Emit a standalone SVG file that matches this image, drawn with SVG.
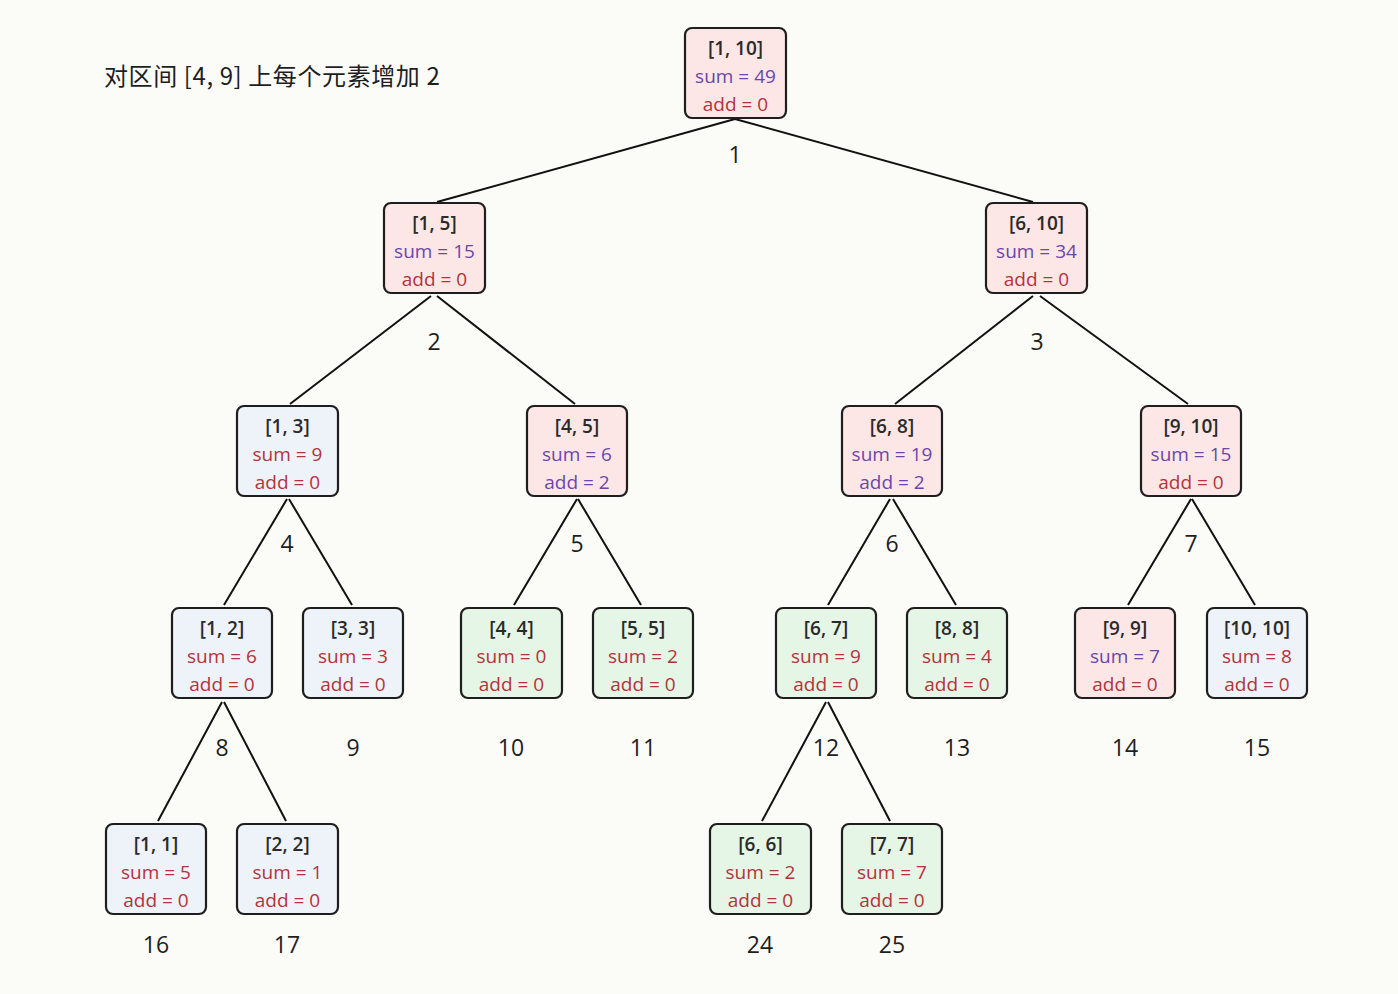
<svg xmlns="http://www.w3.org/2000/svg" width="1398" height="994" viewBox="0 0 1398 994">
<style>
.bx{stroke:#1e1e1e;stroke-width:2.2}
.pk{fill:#fde6e6}.bl{fill:#eef2f9}.gr{fill:#e5f5e6}
text{font-family:"Open Sans","Noto Sans","Liberation Sans",sans-serif;text-anchor:middle}
.r{font-size:19px;font-weight:600;fill:#2a2a2a}
.v{font-size:19px}
.pu{fill:#6b46aa}.rd{fill:#b4333b}
.lb{font-size:23px;fill:#1e1e1e}
.ttl{font-family:"Noto Sans CJK SC","Noto Sans",sans-serif;font-size:24px;letter-spacing:0.6px;fill:#1e1e1e;text-anchor:start}
.cn line{stroke:#111;stroke-width:2}
</style>
<rect width="1398" height="994" fill="#fbfbf8"/>
<text class="ttl" x="104" y="85">对区间 [4, 9] 上每个元素增加 2</text>
<g class="cn">
<line x1="735" y1="119" x2="437" y2="202"/><line x1="735" y1="119" x2="1033" y2="202"/>
<line x1="431" y1="296" x2="290" y2="404"/><line x1="437" y1="296" x2="575" y2="404"/>
<line x1="1033" y1="296" x2="895" y2="404"/><line x1="1040" y1="296" x2="1188" y2="404"/>
<line x1="287" y1="499" x2="224" y2="605"/><line x1="289" y1="499" x2="352" y2="605"/>
<line x1="577" y1="499" x2="514" y2="605"/><line x1="578" y1="499" x2="641" y2="605"/>
<line x1="890" y1="499" x2="828" y2="605"/><line x1="893" y1="499" x2="956" y2="605"/>
<line x1="1191" y1="499" x2="1128" y2="605"/><line x1="1192" y1="499" x2="1255" y2="605"/>
<line x1="222" y1="702" x2="158" y2="821"/><line x1="224" y1="702" x2="286" y2="821"/>
<line x1="826" y1="702" x2="762" y2="821"/><line x1="828" y1="702" x2="890" y2="821"/>
</g>
<g id="n1"><rect class="bx pk" x="685" y="28" width="101" height="90" rx="7"/><text class="r" x="735.5" y="55">[1, 10]</text><text class="v pu" x="735.5" y="83">sum = 49</text><text class="v rd" x="735.5" y="111">add = 0</text></g>
<g id="n2"><rect class="bx pk" x="384" y="203" width="101" height="90" rx="7"/><text class="r" x="434.5" y="230">[1, 5]</text><text class="v pu" x="434.5" y="258">sum = 15</text><text class="v rd" x="434.5" y="286">add = 0</text></g>
<g id="n3"><rect class="bx pk" x="986" y="203" width="101" height="90" rx="7"/><text class="r" x="1036.5" y="230">[6, 10]</text><text class="v pu" x="1036.5" y="258">sum = 34</text><text class="v rd" x="1036.5" y="286">add = 0</text></g>
<g id="n4"><rect class="bx bl" x="237" y="406" width="101" height="90" rx="7"/><text class="r" x="287.5" y="433">[1, 3]</text><text class="v rd" x="287.5" y="461">sum = 9</text><text class="v rd" x="287.5" y="489">add = 0</text></g>
<g id="n5"><rect class="bx pk" x="527" y="406" width="100" height="90" rx="7"/><text class="r" x="577" y="433">[4, 5]</text><text class="v pu" x="577" y="461">sum = 6</text><text class="v pu" x="577" y="489">add = 2</text></g>
<g id="n6"><rect class="bx pk" x="842" y="406" width="100" height="90" rx="7"/><text class="r" x="892" y="433">[6, 8]</text><text class="v pu" x="892" y="461">sum = 19</text><text class="v pu" x="892" y="489">add = 2</text></g>
<g id="n7"><rect class="bx pk" x="1141" y="406" width="100" height="90" rx="7"/><text class="r" x="1191" y="433">[9, 10]</text><text class="v pu" x="1191" y="461">sum = 15</text><text class="v rd" x="1191" y="489">add = 0</text></g>
<g id="n8"><rect class="bx bl" x="172" y="608" width="100" height="90" rx="7"/><text class="r" x="222" y="635">[1, 2]</text><text class="v rd" x="222" y="663">sum = 6</text><text class="v rd" x="222" y="691">add = 0</text></g>
<g id="n9"><rect class="bx bl" x="303" y="608" width="100" height="90" rx="7"/><text class="r" x="353" y="635">[3, 3]</text><text class="v rd" x="353" y="663">sum = 3</text><text class="v rd" x="353" y="691">add = 0</text></g>
<g id="n10"><rect class="bx gr" x="461" y="608" width="101" height="90" rx="7"/><text class="r" x="511.5" y="635">[4, 4]</text><text class="v rd" x="511.5" y="663">sum = 0</text><text class="v rd" x="511.5" y="691">add = 0</text></g>
<g id="n11"><rect class="bx gr" x="593" y="608" width="100" height="90" rx="7"/><text class="r" x="643" y="635">[5, 5]</text><text class="v rd" x="643" y="663">sum = 2</text><text class="v rd" x="643" y="691">add = 0</text></g>
<g id="n12"><rect class="bx gr" x="776" y="608" width="100" height="90" rx="7"/><text class="r" x="826" y="635">[6, 7]</text><text class="v rd" x="826" y="663">sum = 9</text><text class="v rd" x="826" y="691">add = 0</text></g>
<g id="n13"><rect class="bx gr" x="907" y="608" width="100" height="90" rx="7"/><text class="r" x="957" y="635">[8, 8]</text><text class="v rd" x="957" y="663">sum = 4</text><text class="v rd" x="957" y="691">add = 0</text></g>
<g id="n14"><rect class="bx pk" x="1075" y="608" width="100" height="90" rx="7"/><text class="r" x="1125" y="635">[9, 9]</text><text class="v pu" x="1125" y="663">sum = 7</text><text class="v rd" x="1125" y="691">add = 0</text></g>
<g id="n15"><rect class="bx bl" x="1207" y="608" width="100" height="90" rx="7"/><text class="r" x="1257" y="635">[10, 10]</text><text class="v rd" x="1257" y="663">sum = 8</text><text class="v rd" x="1257" y="691">add = 0</text></g>
<g id="n16"><rect class="bx bl" x="106" y="824" width="100" height="90" rx="7"/><text class="r" x="156" y="851">[1, 1]</text><text class="v rd" x="156" y="879">sum = 5</text><text class="v rd" x="156" y="907">add = 0</text></g>
<g id="n17"><rect class="bx bl" x="237" y="824" width="101" height="90" rx="7"/><text class="r" x="287.5" y="851">[2, 2]</text><text class="v rd" x="287.5" y="879">sum = 1</text><text class="v rd" x="287.5" y="907">add = 0</text></g>
<g id="n24"><rect class="bx gr" x="710" y="824" width="101" height="90" rx="7"/><text class="r" x="760.5" y="851">[6, 6]</text><text class="v rd" x="760.5" y="879">sum = 2</text><text class="v rd" x="760.5" y="907">add = 0</text></g>
<g id="n25"><rect class="bx gr" x="842" y="824" width="100" height="90" rx="7"/><text class="r" x="892" y="851">[7, 7]</text><text class="v rd" x="892" y="879">sum = 7</text><text class="v rd" x="892" y="907">add = 0</text></g>
<g id="labels">
<text class="lb" x="735" y="163">1</text>
<text class="lb" x="434" y="350">2</text><text class="lb" x="1037" y="350">3</text>
<text class="lb" x="287" y="552">4</text><text class="lb" x="577" y="552">5</text><text class="lb" x="892" y="552">6</text><text class="lb" x="1191" y="552">7</text>
<text class="lb" x="222" y="756">8</text><text class="lb" x="353" y="756">9</text><text class="lb" x="511" y="756">10</text><text class="lb" x="643" y="756">11</text><text class="lb" x="826" y="756">12</text><text class="lb" x="957" y="756">13</text><text class="lb" x="1125" y="756">14</text><text class="lb" x="1257" y="756">15</text>
<text class="lb" x="156" y="953">16</text><text class="lb" x="287" y="953">17</text><text class="lb" x="760" y="953">24</text><text class="lb" x="892" y="953">25</text>
</g>
</svg>
